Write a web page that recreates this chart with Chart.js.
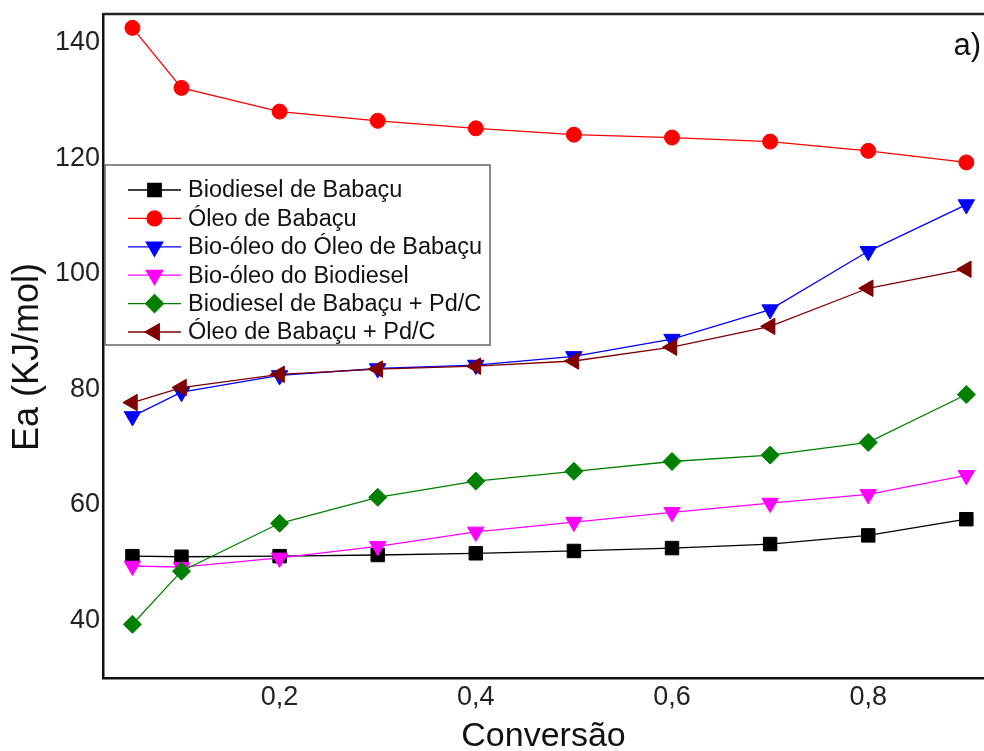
<!DOCTYPE html>
<html>
<head>
<meta charset="utf-8">
<script src="https://cdn.jsdelivr.net/npm/chart.js@4/dist/chart.umd.min.js"></script>
<style>
  html, body { margin: 0; padding: 0; background: #fff; }
  #wrap { width: 984px; height: 751px; }
</style>
</head>
<body>
<div id="wrap"><canvas id="eaChart"></canvas></div>
<script>
const conversion = [0.05, 0.1, 0.2, 0.3, 0.4, 0.5, 0.6, 0.7, 0.8, 0.9];
const biodieselBabacu = [51.1, 51.0, 51.1, 51.3, 51.6, 52.0, 52.5, 53.2, 54.7, 57.5];
const oleoBabacu = [142.6, 132.2, 128.1, 126.5, 125.2, 124.1, 123.6, 122.9, 121.3, 119.3];
const bioOleoOleo = [75.3, 79.5, 82.4, 83.6, 84.2, 85.7, 88.7, 93.8, 103.9, 112.0];
const bioOleoBiodiesel = [49.4, 49.2, 50.8, 52.8, 55.3, 57.0, 58.7, 60.3, 61.8, 65.1];
const biodieselPdC = [39.3, 48.5, 56.8, 61.3, 64.1, 65.8, 67.5, 68.6, 70.8, 79.1];
const oleoPdC = [77.7, 80.3, 82.6, 83.5, 84.0, 84.9, 87.3, 90.9, 97.5, 100.8];

const seriesLabels = ['Biodiesel de Babaçu', 'Óleo de Babaçu', 'Bio-óleo do Óleo de Babaçu',
  'Bio-óleo do Biodiesel', 'Biodiesel de Babaçu + Pd/C', 'Óleo de Babaçu + Pd/C'];
const seriesValues = [biodieselBabacu, oleoBabacu, bioOleoOleo, bioOleoBiodiesel, biodieselPdC, oleoPdC];
const xTicks = [0.2, 0.4, 0.6, 0.8];
const yTicks = [40, 60, 80, 100, 120, 140];

const colors = ['#000000', '#ff0000', '#0000ff', '#ff00ff', '#008000', '#800000'];
const markers = [
  { style: 'rect', radius: 9.5, rotation: 0 },
  { style: 'circle', radius: 7.5, rotation: 0 },
  { style: 'triangle', radius: 9.5, rotation: 180 },
  { style: 'triangle', radius: 9.5, rotation: 180 },
  { style: 'rectRot', radius: 9, rotation: 0 },
  { style: 'triangle', radius: 9.5, rotation: 270 }
];
const FONT = '"Liberation Sans", Arial, sans-serif';

const datasets = seriesLabels.map((label, i) => ({
  label: label,
  data: conversion.map((x, j) => ({ x: x, y: seriesValues[i][j] })),
  borderColor: colors[i],
  backgroundColor: colors[i],
  borderWidth: 1.3,
  pointStyle: markers[i].style,
  pointRadius: markers[i].radius,
  pointRotation: markers[i].rotation,
  pointBorderWidth: 1,
  pointBackgroundColor: colors[i],
  pointBorderColor: colors[i],
  order: seriesLabels.length - i,
  tension: 0
}));

const overlay = {
  id: 'overlay',
  afterDraw(chart) {
    const ctx = chart.ctx;
    const area = chart.chartArea;
    ctx.save();
    // top frame line
    ctx.strokeStyle = '#222';
    ctx.lineWidth = 2.5;
    ctx.beginPath();
    ctx.moveTo(area.left, area.top);
    ctx.lineTo(chart.width, area.top);
    ctx.stroke();

    // legend box
    const bx = 105, by = 165, bw = 385, bh = 180;
    ctx.fillStyle = '#fff';
    ctx.fillRect(bx, by, bw, bh);
    ctx.strokeStyle = '#666';
    ctx.lineWidth = 1.5;
    ctx.strokeRect(bx, by, bw, bh);
    ctx.font = '23.5px ' + FONT;
    ctx.textBaseline = 'middle';
    seriesLabels.forEach((label, i) => {
      const y = 190 + i * 28.4;
      ctx.strokeStyle = colors[i];
      ctx.lineWidth = 1.3;
      ctx.beginPath();
      ctx.moveTo(128, y);
      ctx.lineTo(181, y);
      ctx.stroke();
      ctx.fillStyle = colors[i];
      Chart.helpers.drawPoint(ctx, {
        pointStyle: markers[i].style,
        radius: markers[i].radius,
        rotation: markers[i].rotation,
        borderWidth: 1
      }, 154.5, y);
      ctx.fillStyle = '#111';
      ctx.fillText(label, 188, y + 1);
    });

    // axis titles
    ctx.fillStyle = '#111';
    ctx.textAlign = 'center';
    ctx.textBaseline = 'middle';
    ctx.font = '34px ' + FONT;
    ctx.fillText('Conversão', (area.left + area.right) / 2, 737);
    ctx.save();
    ctx.translate(28, 357);
    ctx.rotate(-Math.PI / 2);
    ctx.font = '36px ' + FONT;
    ctx.fillText('Ea (KJ/mol)', 0, 0);
    ctx.restore();

    // panel label
    ctx.font = '31px ' + FONT;
    ctx.textAlign = 'right';
    ctx.fillText('a)', 981, 46);
    ctx.restore();
  }
};

new Chart(document.getElementById('eaChart'), {
  type: 'line',
  data: { datasets: datasets },
  options: {
    responsive: true,
    maintainAspectRatio: false,
    animation: false,
    layout: { autoPadding: false, padding: { top: 14, right: 0, left: 0, bottom: 0 } },
    plugins: {
      legend: { display: false },
      tooltip: { enabled: false }
    },
    scales: {
      x: {
        type: 'linear',
        min: 0.02,
        max: 0.918,
        grid: { display: false, drawTicks: false },
        border: { display: true, color: '#111', width: 2.5 },
        afterFit(scale) {
          scale.height = 73;
          scale.paddingLeft = 0;
          scale.paddingRight = 0;
        },
        afterBuildTicks(scale) { scale.ticks = xTicks.map(v => ({ value: v })); },
        ticks: {
          padding: 3,
          color: '#222',
          font: { family: FONT, size: 27 },
          maxRotation: 0,
          callback: v => v.toFixed(1).replace('.', ',')
        }
      },
      y: {
        min: 30,
        max: 145,
        grid: { display: false, drawTicks: false },
        border: { display: true, color: '#111', width: 2.5 },
        afterFit(scale) {
          scale.width = 103;
          scale.paddingTop = 0;
          scale.paddingBottom = 0;
        },
        afterBuildTicks(scale) { scale.ticks = yTicks.map(v => ({ value: v })); },
        ticks: {
          padding: 3,
          color: '#222',
          font: { family: FONT, size: 27 }
        }
      }
    }
  },
  plugins: [overlay]
});
</script>
</body>
</html>
